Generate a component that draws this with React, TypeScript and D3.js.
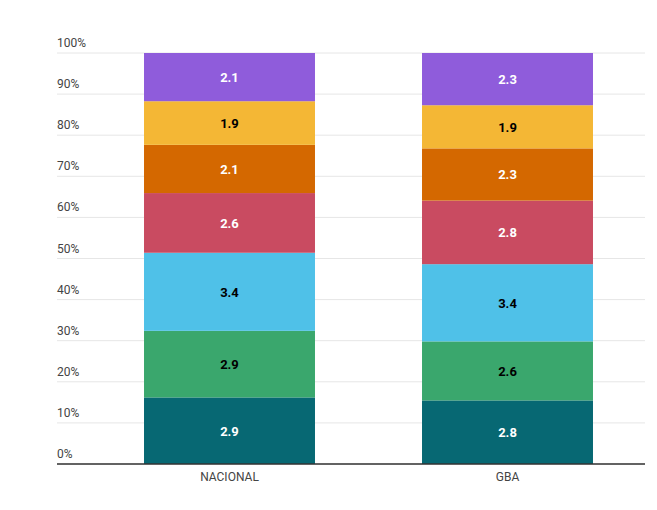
import React from "react";
import * as d3 from "d3";

const categories = ["NACIONAL", "GBA"];
const seriesKeys = ["s1", "s2", "s3", "s4", "s5", "s6", "s7"];
const nacional = [2.9, 2.9, 3.4, 2.6, 2.1, 1.9, 2.1];
const gba = [2.8, 2.6, 3.4, 2.8, 2.3, 1.9, 2.3];
const colors = ["#076873", "#3aa76d", "#4fc1e8", "#c94b61", "#d46800", "#f4b735", "#8f5cdb"];
const labelColors = ["#fff", "#000", "#000", "#fff", "#fff", "#000", "#fff"];
const ticks = [0, 10, 20, 30, 40, 50, 60, 70, 80, 90, 100];

const W = 657, H = 510;
const TOP = 53, BOTTOM = 464, LEFT = 57, RIGHT = 645;

export default function App() {
  const rows = [nacional, gba].map((vals, i) => {
    const row: any = { cat: categories[i] };
    seriesKeys.forEach((k, j) => (row[k] = vals[j]));
    return row;
  });
  const stacked = d3.stack().keys(seriesKeys).offset(d3.stackOffsetExpand)(rows);
  const x = d3.scaleBand().domain(categories).range([LEFT, 680]).paddingInner(0.385).paddingOuter(0.313);
  const y = d3.scaleLinear().domain([0, 1]).range([BOTTOM, TOP]);

  return (
    <svg width={W} height={H} style={{ position: "absolute", left: 0, top: 0 }} fontFamily="Roboto, sans-serif">
      <rect width={W} height={H} fill="#fff" />
      {ticks.map((t) => (
        <g key={t}>
          <line x1={LEFT} x2={RIGHT} y1={y(t / 100)} y2={y(t / 100)} stroke="#e6e6e6" />
          <text x={LEFT} y={y(t / 100) - 6} fontSize={12} fill="#444">{t}%</text>
        </g>
      ))}
      {stacked.map((s, j) =>
        s.map((d, i) => {
          const cat = categories[i];
          const x0 = x(cat)!;
          return (
            <g key={`${j}-${i}`}>
              <rect x={x0} y={y(d[1])} width={x.bandwidth()} height={y(d[0]) - y(d[1])} fill={colors[j]} />
              <text x={x0 + x.bandwidth() / 2} y={(y(d[0]) + y(d[1])) / 2 + 5} textAnchor="middle"
                fontSize={13} fontWeight="bold" fill={labelColors[j]}>
                {(d.data as any)[seriesKeys[j]].toFixed(1)}
              </text>
            </g>
          );
        })
      )}
      <line x1={LEFT} x2={RIGHT} y1={BOTTOM} y2={BOTTOM} stroke="#333" strokeWidth={1.5} />
      {categories.map((c) => (
        <text key={c} x={x(c)! + x.bandwidth() / 2} y={481} textAnchor="middle" fontSize={12} fill="#444">{c}</text>
      ))}
    </svg>
  );
}
